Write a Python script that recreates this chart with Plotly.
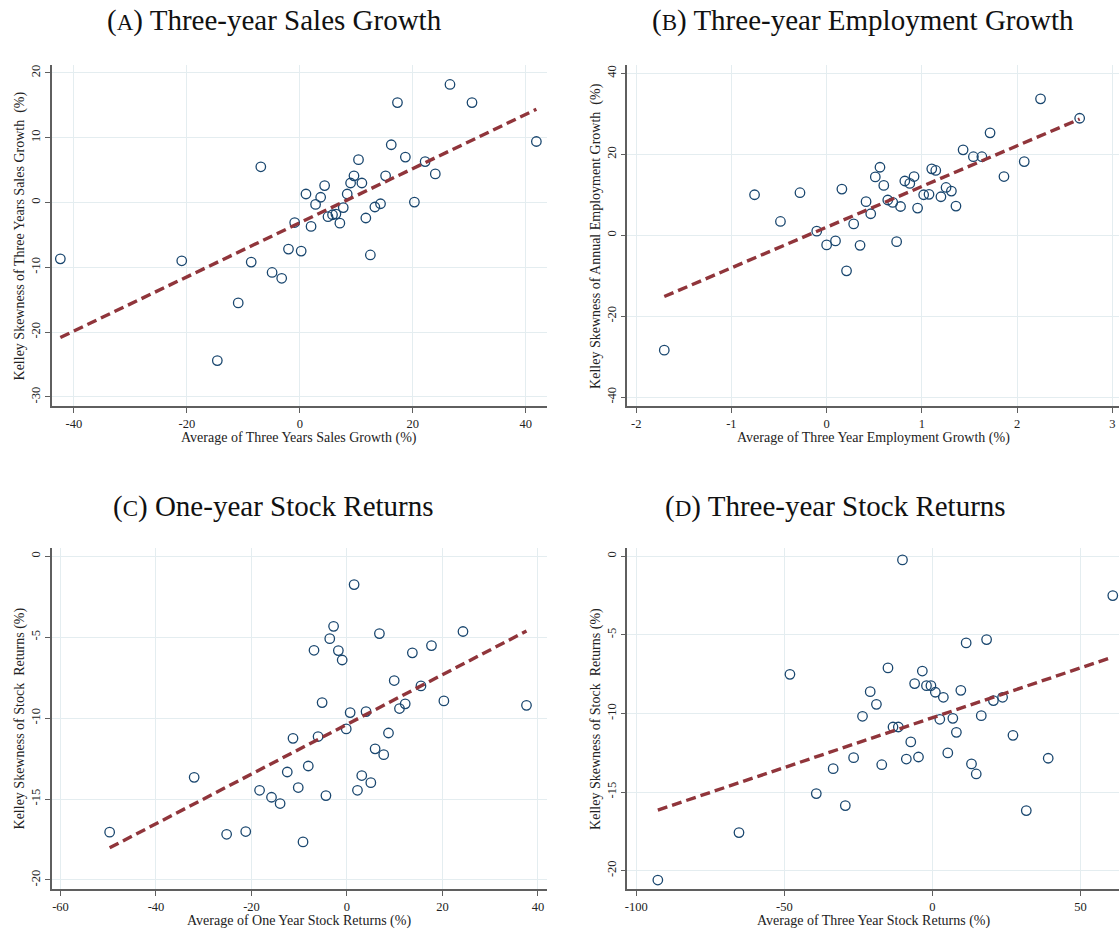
import numpy as np
import plotly.graph_objects as go

# (A) three-year sales growth
a_x = [-42.4, -20.9, -14.6, -10.9, -8.6, -6.9, -4.9, -3.2, -2.0, -0.9,
       0.25, 1.1, 2.0, 2.8, 3.7, 4.4, 5.0, 5.8, 6.4, 7.1,
       7.7, 8.4, 9.0, 9.6, 10.4, 11.0, 11.7, 12.5, 13.3, 14.3,
       15.2, 16.2, 17.3, 18.7, 20.3, 22.2, 24.0, 26.6, 30.5, 41.9]
a_y = [-8.7, -9.0, -24.4, -15.5, -9.2, 5.5, -10.8, -11.7, -7.2, -3.1,
       -7.5, 1.3, -3.7, -0.3, 0.8, 2.6, -2.2, -1.9, -1.8, -3.2,
       -0.8, 1.3, 3.0, 4.1, 6.6, 3.0, -2.4, -8.1, -0.7, -0.2,
       4.1, 8.9, 15.4, 7.0, 0.05, 6.3, 4.4, 18.2, 15.4, 9.4]
a_xticks = [-40, -20, 0, 20, 40]
a_yticks = [-30, -20, -10, 0, 10, 20]

# (B) three-year employment growth
b_x = [-1.705, -0.757, -0.485, -0.28, -0.104, 0.0, 0.093, 0.16, 0.209, 0.284,
       0.351, 0.414, 0.463, 0.511, 0.56, 0.60, 0.642, 0.694, 0.735, 0.776,
       0.821, 0.873, 0.918, 0.955, 1.019, 1.075, 1.104, 1.146, 1.20, 1.254,
       1.31, 1.358, 1.433, 1.541, 1.63, 1.716, 1.862, 2.075, 2.246, 2.657]
b_y = [-28.4, 10.0, 3.4, 10.5, 1.0, -2.4, -1.4, 11.4, -8.8, 2.8,
       -2.5, 8.3, 5.3, 14.4, 16.8, 12.3, 8.7, 8.1, -1.6, 7.1,
       13.4, 12.8, 14.5, 6.7, 10.0, 10.1, 16.4, 16.0, 9.5, 11.8,
       10.9, 7.2, 21.1, 19.4, 19.4, 25.3, 14.5, 18.2, 33.7, 28.9]
b_xticks = [-2, -1, 0, 1, 2, 3]
b_yticks = [-40, -20, 0, 20, 40]

# (C) one-year stock returns
c_x = [-49.7, -32.0, -25.2, -21.2, -18.3, -15.8, -14.0, -12.5, -11.3, -10.2,
       -9.2, -8.1, -6.9, -6.05, -5.2, -4.4, -3.6, -2.8, -1.8, -1.0,
       -0.15, 0.67, 1.5, 2.2, 3.1, 4.0, 5.0, 5.9, 6.8, 7.7,
       8.7, 9.9, 11.0, 12.2, 13.7, 15.5, 17.7, 20.3, 24.3, 37.6]
c_y = [-17.05, -13.66, -17.18, -17.01, -14.46, -14.89, -15.28, -13.33, -11.25, -14.29,
       -17.65, -12.96, -5.81, -11.14, -9.04, -14.79, -5.09, -4.33, -5.83, -6.41,
       -10.67, -9.66, -1.75, -14.46, -13.55, -9.6, -13.99, -11.9, -4.78, -12.26,
       -10.92, -7.68, -9.41, -9.12, -5.97, -8.01, -5.52, -8.94, -4.65, -9.21]
c_xticks = [-60, -40, -20, 0, 20, 40]
c_yticks = [-20, -15, -10, -5, 0]

# (D) three-year stock returns
d_x = [-92.7, -65.3, -48.1, -39.2, -33.5, -29.4, -26.6, -23.6, -21.0, -18.9,
       -17.1, -15.0, -13.3, -11.5, -10.1, -8.8, -7.3, -6.0, -4.7, -3.4,
       -2.0, -0.5, 1.0, 2.5, 3.7, 5.2, 6.9, 8.1, 9.6, 11.4,
       13.2, 14.8, 16.5, 18.3, 20.6, 23.7, 27.2, 31.7, 39.1, 60.9]
d_y = [-20.6, -17.58, -7.51, -15.10, -13.51, -15.86, -12.81, -10.18, -8.61, -9.42,
       -13.26, -7.10, -10.86, -10.86, -0.23, -12.9, -11.81, -8.10, -12.77, -7.30,
       -8.23, -8.23, -8.65, -10.37, -8.97, -12.51, -10.31, -11.2, -8.53, -5.51,
       -13.21, -13.85, -10.14, -5.30, -9.18, -8.97, -11.39, -16.18, -12.85, -2.50]
d_xticks = [-100, -50, 0, 50]
d_yticks = [-20, -15, -10, -5, 0]

titles = ["(<span style='font-size:23px'>A</span>) Three-year Sales Growth",
          "(<span style='font-size:23px'>B</span>) Three-year Employment Growth",
          "(<span style='font-size:23px'>C</span>) One-year Stock Returns",
          "(<span style='font-size:23px'>D</span>) Three-year Stock Returns"]
x_titles = ["Average of Three Years Sales Growth (%)",
            "Average of Three Year Employment Growth (%)",
            "Average of One Year Stock Returns (%)",
            "Average of Three Year Stock Returns (%)"]
y_titles = ["Kelley Skewness of Three Years Sales Growth \u00a0(%)",
            "Kelley Skewness of Annual Employment Growth \u00a0(%)",
            "Kelley Skewness of Stock \u00a0Returns (%)",
            "Kelley Skewness of Stock \u00a0Returns (%)"]

W, H = 1119, 932


def fx(p):
    return p / W


def fy(p):
    return 1 - p / H


NAVY = "#1a476f"
MAROON = "#90353b"
GRID = "#e4edf0"
AXIS = "#5f5f5f"
SERIF = "Liberation Serif, Times New Roman, serif"

panels = [
    dict(x=a_x, y=a_y, px=(49, 545), py=(65, 406), xr=[-43.9, 43.7], yr=[-31.4, 21.2],
         xt=a_xticks, yt=a_yticks),
    dict(x=b_x, y=b_y, px=(626, 1119), py=(65, 406), xr=[-2.093, 3.07], yr=[-42.2, 42.06],
         xt=b_xticks, yt=b_yticks),
    dict(x=c_x, y=c_y, px=(49, 545), py=(548, 889), xr=[-61.8, 41.8], yr=[-20.56, 0.51],
         xt=c_xticks, yt=c_yticks),
    dict(x=d_x, y=d_y, px=(626, 1119), py=(548, 889), xr=[-103.0, 63.0], yr=[-21.17, 0.53],
         xt=d_xticks, yt=d_yticks),
]
title_pos = [(272, 21), (862, 21), (271, 506), (835, 506)]

fig = go.Figure()
annotations = []

for i, p in enumerate(panels):
    n = "" if i == 0 else str(i + 1)
    xa, ya = "x" + n, "y" + n
    xs = np.array(p["x"])
    ys = np.array(p["y"])

    fig.add_trace(go.Scatter(
        x=xs, y=ys, mode="markers", xaxis=xa, yaxis=ya,
        marker=dict(symbol="circle-open", size=9.5, color=NAVY, line=dict(width=1.3, color=NAVY)),
        showlegend=False, hoverinfo="x+y"))

    # linear fit
    slope, icpt = np.polyfit(xs, ys, 1)
    lx = np.array([xs.min(), xs.max()])
    fig.add_trace(go.Scatter(
        x=lx, y=slope * lx + icpt, mode="lines", xaxis=xa, yaxis=ya,
        line=dict(color=MAROON, width=3.4, dash="10px,5px"),
        showlegend=False, hoverinfo="skip"))

    x0, x1 = p["px"]
    y0, y1 = p["py"]
    axis_common = dict(
        showline=True, linecolor=AXIS, linewidth=1.5,
        ticks="outside", ticklen=5, tickcolor=AXIS, tickwidth=1.2,
        showgrid=True, gridcolor=GRID, gridwidth=1.2, zeroline=False,
        tickfont=dict(family=SERIF, size=12.5, color="#222"),
    )
    fig.update_layout(**{
        ("xaxis" + n): dict(domain=[fx(x0), min(fx(x1), 1.0)], range=p["xr"],
                            tickvals=p["xt"], ticktext=[str(v) for v in p["xt"]],
                            anchor=ya, **axis_common),
        ("yaxis" + n): dict(domain=[fy(y1), fy(y0)], range=p["yr"],
                            tickvals=p["yt"], ticktext=[str(v) for v in p["yt"]],
                            anchor=xa, tickangle=-90, **axis_common),
    })

    tx, ty = title_pos[i]
    annotations.append(dict(text=titles[i], x=fx(tx), y=fy(ty), xref="paper", yref="paper",
                            showarrow=False, xanchor="center", yanchor="middle",
                            font=dict(family=SERIF, size=29, color="#111")))
    annotations.append(dict(text=x_titles[i], x=fx((x0 + x1) / 2), y=fy(y1 + 32),
                            xref="paper", yref="paper", showarrow=False,
                            xanchor="center", yanchor="middle",
                            font=dict(family=SERIF, size=14, color="#222")))
    annotations.append(dict(text=y_titles[i], x=fx(x0 - 32), y=fy((y0 + y1) / 2),
                            xref="paper", yref="paper", showarrow=False, textangle=-90,
                            xanchor="center", yanchor="middle",
                            font=dict(family=SERIF, size=14, color="#222")))

fig.update_layout(
    width=W, height=H, margin=dict(l=0, r=0, t=0, b=0),
    paper_bgcolor="white", plot_bgcolor="white",
    annotations=annotations,
)

# drop the browser's default 8px body margin so the figure fills the window
fig.write_html("out.html", config={"displayModeBar": False},
               post_script="document.body.style.margin = '0';")
